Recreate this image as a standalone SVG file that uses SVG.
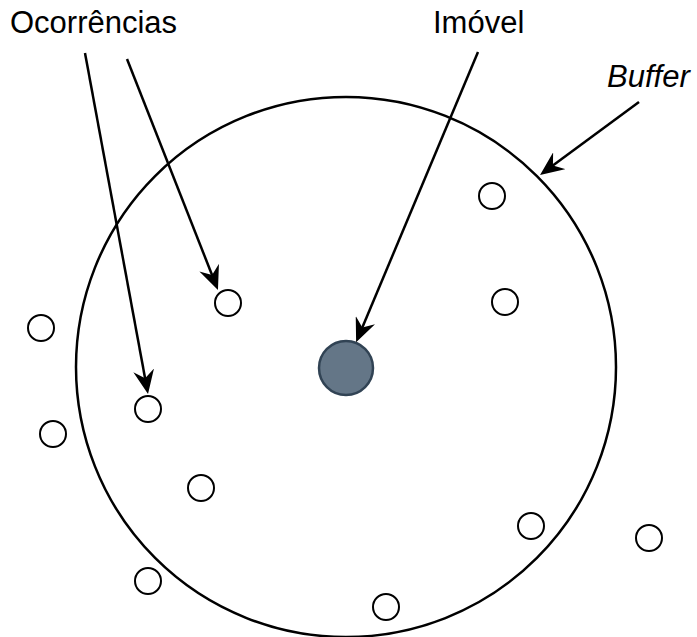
<svg xmlns="http://www.w3.org/2000/svg" width="697" height="637" viewBox="0 0 697 637">
  <style>
    .label { font-family: "Liberation Sans", Arial, Helvetica, sans-serif; font-size: 31px; fill: #000; }
    .point { fill: #fff; stroke: #000; stroke-width: 2; }
    .edge { fill: none; stroke: #000; stroke-width: 2.5; marker-end: url(#arrow); }
  </style>
  <defs>
    <marker id="arrow" markerUnits="userSpaceOnUse" viewBox="0 0 24 21" refX="14" refY="10.5" markerWidth="24" markerHeight="21" orient="auto">
      <path d="M24,10.5 L0,0 L8,10.5 L0,21 Z" fill="#000"/>
    </marker>
  </defs>

  <rect width="697" height="637" fill="#fff"/>

  <!-- buffer zone -->
  <g id="buffer">
    <circle cx="346" cy="367" r="270" fill="none" stroke="#000" stroke-width="2.5"/>
  </g>

  <!-- property -->
  <g id="imovel">
    <circle cx="346" cy="368" r="27" fill="#647687" stroke="#314354" stroke-width="2.5"/>
  </g>

  <!-- occurrences -->
  <g id="occ-1"><circle class="point" cx="41" cy="328" r="13"/></g>
  <g id="occ-2"><circle class="point" cx="53" cy="434" r="13"/></g>
  <g id="occ-3"><circle class="point" cx="148" cy="409" r="13"/></g>
  <g id="occ-4"><circle class="point" cx="228" cy="303" r="13"/></g>
  <g id="occ-5"><circle class="point" cx="201" cy="488" r="13"/></g>
  <g id="occ-6"><circle class="point" cx="148" cy="581" r="13"/></g>
  <g id="occ-7"><circle class="point" cx="386" cy="607" r="13"/></g>
  <g id="occ-8"><circle class="point" cx="531" cy="526" r="13"/></g>
  <g id="occ-9"><circle class="point" cx="649" cy="538" r="13"/></g>
  <g id="occ-10"><circle class="point" cx="492" cy="196" r="13"/></g>
  <g id="occ-11"><circle class="point" cx="505" cy="302" r="13"/></g>

  <!-- labels -->
  <g id="label-ocorrencias"><text class="label" x="10" y="33">Ocorrências</text></g>
  <g id="label-imovel"><text class="label" x="433" y="33">Imóvel</text></g>
  <g id="label-buffer"><text class="label" x="607" y="87" font-style="italic">Buffer</text></g>

  <!-- connectors -->
  <g id="connectors">
    <line class="edge" x1="85" y1="53" x2="146.2" y2="384.2"/>
    <line class="edge" x1="127" y1="59" x2="214.3" y2="280.7"/>
    <line class="edge" x1="478" y1="52" x2="360.0" y2="333.0"/>
    <line class="edge" x1="639" y1="102" x2="548.1" y2="169.1"/>
  </g>
</svg>
